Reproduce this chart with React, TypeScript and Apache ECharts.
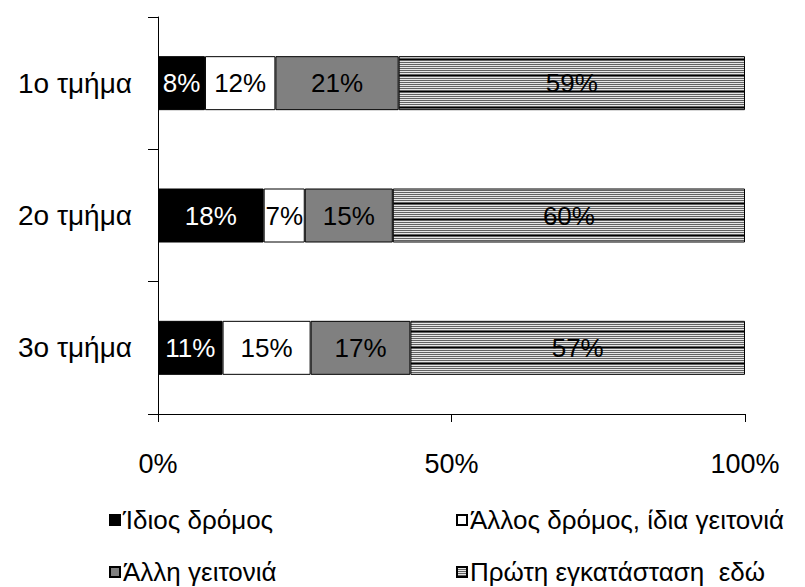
import React, { useEffect, useRef } from "react";
import * as echarts from "echarts";

const categories = ["1ο τμήμα", "2ο τμήμα", "3ο τμήμα"];
const seriesNames = [
  "Ίδιος δρόμος",
  "Άλλος δρόμος, ίδια γειτονιά",
  "Άλλη γειτονιά",
  "Πρώτη εγκατάσταση  εδώ",
];
const idiosDromos = [8, 18, 11];
const allosDromos = [12, 7, 15];
const alliGeitonia = [21, 15, 17];
const protiEgkatastasi = [59, 60, 57];
const xTicks = [0, 50, 100];

function makePattern(): string {
  const c = document.createElement("canvas");
  c.width = 4;
  c.height = 16;
  const ctx = c.getContext("2d")!;
  for (let i = 0; i < 16; i++) {
    let col = i % 2 === 0 ? "#626262" : "#e6e6e6";
    if (i === 11) col = "#000000";
    ctx.fillStyle = col;
    ctx.fillRect(0, i, 4, 1);
  }
  return c.toDataURL();
}

export default function App() {
  const ref = useRef<HTMLDivElement>(null);
  useEffect(() => {
    document.body.style.margin = "0";
    if (!ref.current) return;
    const chart = echarts.init(ref.current, undefined, { renderer: "svg" });
    const patternUrl = makePattern();
    const font = "'Liberation Sans', Arial, sans-serif";
    const values = [idiosDromos, allosDromos, alliGeitonia, protiEgkatastasi];
    const fills: any[] = [
      "#000000",
      "#ffffff",
      "#808080",
      { image: patternUrl, repeat: "repeat" },
    ];
    const labelColors = ["#ffffff", "#000000", "#000000", "#000000"];
    const legendPos = [
      { left: 109, top: 507 },
      { left: 456, top: 507 },
      { left: 109, top: 559 },
      { left: 456, top: 559 },
    ];
    chart.setOption({
      animation: false,
      grid: { left: 158, right: 60, top: 17, bottom: 173 },
      xAxis: {
        type: "value",
        min: 0,
        max: 100,
        interval: 50,
        axisLine: { show: true, lineStyle: { color: "#000", width: 1 } },
        axisTick: { show: true, length: 8, lineStyle: { color: "#000" } },
        splitLine: { show: false },
        axisLabel: {
          margin: 36,
          fontSize: 27,
          fontFamily: font,
          color: "#000",
          formatter: (v: number) => (xTicks.includes(v) ? v + "%" : ""),
        },
      },
      yAxis: {
        type: "category",
        data: categories,
        inverse: true,
        axisLine: { show: true, lineStyle: { color: "#000", width: 1 } },
        axisTick: { show: true, length: 10, lineStyle: { color: "#000" } },
        axisLabel: { margin: 26, fontSize: 28, fontFamily: font, color: "#000" },
      },
      legend: seriesNames.map((n, i) => ({
        data: [n],
        left: legendPos[i].left,
        top: legendPos[i].top,
        padding: 0,
        itemWidth: 10,
        itemHeight: 10,
        itemGap: 4,
        icon: "rect",
        selectedMode: false,
        textStyle: { fontSize: 26, fontFamily: font, color: "#000", padding: [0, 0, 0, -2] },
      })),
      series: seriesNames.map((n, i) => ({
        name: n,
        type: "bar",
        stack: "total",
        barWidth: 54,
        data: values[i],
        itemStyle: { color: fills[i], borderColor: "#000", borderWidth: 1 },
        label: {
          show: true,
          position: "inside",
          formatter: (p: any) => p.value + "%",
          fontSize: 26,
          fontFamily: font,
          color: labelColors[i],
        },
      })),
    });
    return () => chart.dispose();
  }, []);
  return <div ref={ref} style={{ width: 805, height: 587 }} />;
}
